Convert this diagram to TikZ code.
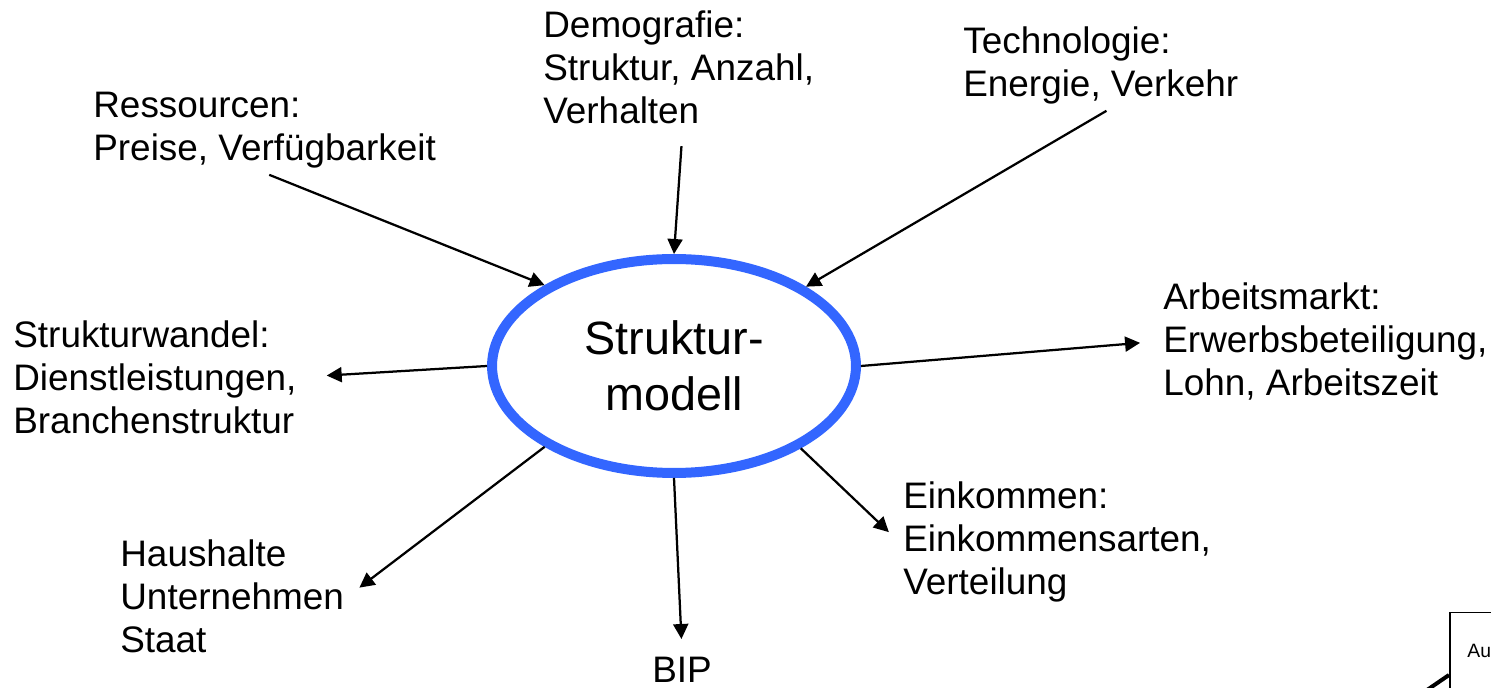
\documentclass[tikz,border=0pt]{standalone}
\usepackage{fontspec}
\setmainfont{Liberation Sans}
\usetikzlibrary{shapes.geometric,arrows.meta}
\definecolor{modelblue}{RGB}{51,102,255}
\begin{document}
\begin{tikzpicture}[x=0.02cm,y=-0.02cm,
  txt/.style={font=\fontsize{21}{24.6}\selectfont,align=left,inner sep=0.08cm,anchor=north west},
  pfeil/.style={-{Triangle[length=0.3cm,width=0.3cm]},line width=0.045cm}]
\useasboundingbox (0,0) rectangle (1491,688);
\clip (0,0) rectangle (1491,688);
\node(model) [ellipse,draw=modelblue,line width=0.2cm,minimum width=7.28cm,minimum height=4.28cm,inner sep=0pt,align=center,font=\fontsize{26.6}{31.7}\selectfont] at (674,366) {Struktur-\\modell};
\node(ress) [txt] at (89,88) {Ressourcen:\\Preise, Verfügbarkeit};
\node(demo) [txt] at (539,6) {Demografie:\\Struktur, Anzahl,\\Verhalten};
\node(tech) [txt] at (959,22) {Technologie:\\Energie, Verkehr};
\node(wandel) [txt] at (9,316) {Strukturwandel:\\Dienstleistungen,\\Branchenstruktur};
\node(arbeit) [txt] at (1159,278) {Arbeitsmarkt:\\Erwerbsbeteiligung,\\Lohn, Arbeitszeit};
\node(haus) [txt] at (116,535) {Haushalte\\Unternehmen\\Staat};
\node(eink) [txt] at (899,477) {Einkommen:\\Einkommensarten,\\Verteilung};
\node(bip) [txt] at (648,653) {BIP};
\draw[pfeil,shorten <=0.1cm] (ress.south) to (model.148);
\draw[pfeil,shorten <=0.36cm] ([xshift=0.08cm]demo.south) to (model.north);
\draw[pfeil,shorten <=0.1cm] ([xshift=0.2cm]tech.south) to (model.31);
\draw[pfeil,shorten >=0.52cm] (model.west) to (wandel.east);
\draw[pfeil,shorten >=0.38cm] (model.east) to (arbeit.west);
\draw[pfeil,shorten >=0.28cm] (model.212) to (haus.east);
\draw[pfeil,shorten >=0.28cm] (model.south) to (bip.north);
\draw[pfeil,shorten >=0.28cm] (model.327) to (eink.west);
\node(box) [draw,line width=0.03cm,anchor=north west,minimum width=4cm,minimum height=4cm] at (1449,612) {};
\node(au) [anchor=north west,inner sep=0pt,font=\fontsize{11}{13}\selectfont] at (1467,644) {Au};
\coordinate(off) at (1411,701);
\draw[line width=0.08cm] (off) to ([yshift=-1.26cm]box.north west);
\end{tikzpicture}
\end{document}
